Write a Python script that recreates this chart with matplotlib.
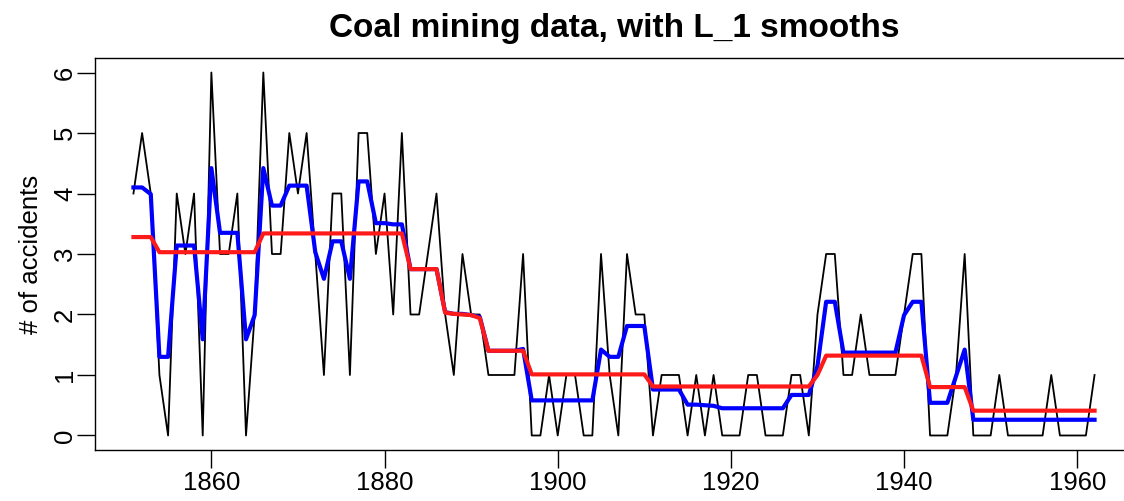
#!/usr/bin/env python
"""Coal mining disasters per year, with two L_1 (piecewise constant) smooths."""

import numpy as np
import matplotlib
matplotlib.use("Agg")
import matplotlib.pyplot as plt

# ---- data --------------------------------------------------------------
years = np.arange(1851, 1963)

accidents = [
    4, 5, 4, 1, 0, 4, 3, 4, 0, 6,
    3, 3, 4, 0, 2, 6, 3, 3, 5, 4,
    5, 3, 1, 4, 4, 1, 5, 5, 3, 4,
    2, 5, 2, 2, 3, 4, 2, 1, 3, 2,
    2, 1, 1, 1, 1, 3, 0, 0, 1, 0,
    1, 1, 0, 0, 3, 1, 0, 3, 2, 2,
    0, 1, 1, 1, 0, 1, 0, 1, 0, 0,
    0, 1, 1, 0, 0, 0, 1, 1, 0, 2,
    3, 3, 1, 1, 2, 1, 1, 1, 1, 2,
    3, 3, 0, 0, 0, 1, 3, 0, 0, 0,
    1, 0, 0, 0, 0, 0, 1, 0, 0, 0,
    0, 1,
]

# light smoothing (blue)
smooth_blue = [
    4.10, 4.10, 3.99, 1.30, 1.30, 3.14, 3.14, 3.14, 1.59, 4.42,
    3.35, 3.35, 3.35, 1.59, 1.99, 4.42, 3.80, 3.80, 4.13, 4.13,
    4.13, 3.03, 2.59, 3.21, 3.21, 2.59, 4.20, 4.20, 3.51, 3.51,
    3.49, 3.49, 2.75, 2.75, 2.75, 2.75, 2.04, 2.01, 2.01, 1.99,
    1.96, 1.40, 1.40, 1.40, 1.40, 1.43, 0.58, 0.58, 0.58, 0.58,
    0.58, 0.58, 0.58, 0.58, 1.42, 1.30, 1.30, 1.81, 1.81, 1.81,
    0.76, 0.76, 0.76, 0.76, 0.51, 0.51, 0.50, 0.49, 0.45, 0.45,
    0.45, 0.45, 0.45, 0.45, 0.45, 0.45, 0.67, 0.67, 0.67, 1.15,
    2.21, 2.21, 1.37, 1.37, 1.37, 1.37, 1.37, 1.37, 1.37, 1.99,
    2.21, 2.21, 0.54, 0.54, 0.54, 0.98, 1.42, 0.26, 0.26, 0.26,
    0.26, 0.26, 0.26, 0.26, 0.26, 0.26, 0.26, 0.26, 0.26, 0.26,
    0.26, 0.26,
]

# heavy smoothing (red)
smooth_red = [
    3.28, 3.28, 3.28, 3.03, 3.03, 3.03, 3.03, 3.03, 3.03, 3.03,
    3.03, 3.03, 3.03, 3.03, 3.03, 3.34, 3.34, 3.34, 3.34, 3.34,
    3.34, 3.34, 3.34, 3.34, 3.34, 3.34, 3.34, 3.34, 3.34, 3.34,
    3.34, 3.34, 2.75, 2.75, 2.75, 2.75, 2.03, 2.01, 2.00, 1.99,
    1.94, 1.40, 1.40, 1.40, 1.40, 1.40, 1.01, 1.01, 1.01, 1.01,
    1.01, 1.01, 1.01, 1.01, 1.01, 1.01, 1.01, 1.01, 1.01, 1.01,
    0.81, 0.81, 0.81, 0.81, 0.81, 0.81, 0.81, 0.81, 0.81, 0.81,
    0.81, 0.81, 0.81, 0.81, 0.81, 0.81, 0.81, 0.81, 0.81, 1.00,
    1.32, 1.32, 1.32, 1.32, 1.32, 1.32, 1.32, 1.32, 1.32, 1.32,
    1.32, 1.32, 0.80, 0.80, 0.80, 0.80, 0.80, 0.41, 0.41, 0.41,
    0.41, 0.41, 0.41, 0.41, 0.41, 0.41, 0.41, 0.41, 0.41, 0.41,
    0.41, 0.41,
]

xticks = [1860, 1880, 1900, 1920, 1940, 1960]
yticks = [0, 1, 2, 3, 4, 5, 6]


def main():
    plt.rcParams["font.family"] = ["Liberation Sans", "DejaVu Sans"]

    fig = plt.figure(figsize=(11.24, 5.01), dpi=100)
    # R-style plot region; the right edge of the box falls just outside
    ax = fig.add_axes([95 / 1124, 1 - 450 / 501, 1038 / 1124, 392 / 501])

    ax.plot(years, accidents, color="black", lw=1.3)
    ax.plot(years, smooth_blue, color="#0000ff", lw=3.0)
    ax.plot(years, smooth_red, color="#ff1a1a", lw=3.0)

    # R default 4% axis padding
    xr = years[-1] - years[0]
    ax.set_xlim(years[0] - 0.04 * xr, years[-1] + 0.04 * xr)
    ax.set_ylim(-0.24, 6.24)

    ax.set_xticks(xticks)
    ax.set_yticks(yticks)
    ax.tick_params(direction="out", length=13, width=1.0,
                   labelsize=18.5, colors="black")
    ax.tick_params(axis="x", pad=2)
    ax.tick_params(axis="y", pad=0)
    for lab in ax.get_yticklabels():
        lab.set_rotation(90)
        lab.set_va("center")
    for s in ax.spines.values():
        s.set_linewidth(1.0)

    ax.set_ylabel("# of accidents", fontsize=18.5)
    ax.yaxis.set_label_coords(-0.050, 0.5)
    fig.text(614 / 1124, 1 - 28 / 501, "Coal mining data, with L_1 smooths",
             ha="center", va="center", fontsize=24, fontweight="bold")

    fig.savefig("out.png", dpi=100)


if __name__ == "__main__":
    main()
